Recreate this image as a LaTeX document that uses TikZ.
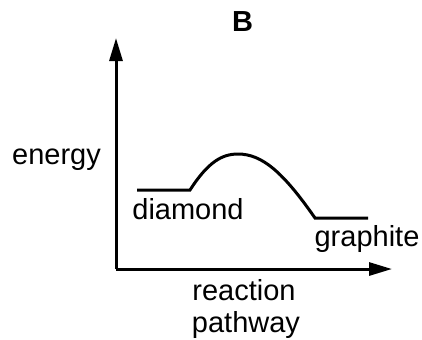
\documentclass[tikz,border=0pt]{standalone}
\usepackage{fontspec}
\setmainfont{Liberation Sans}
\usetikzlibrary{arrows.meta}

\begin{document}
\begin{tikzpicture}[x=0.5pt,y=-0.5pt,
 axis/.style={line width=1.5pt,-{Triangle[length=11.5pt,width=6.5pt]}},
 level/.style={line width=1.5pt},
 lbl/.style={font=\fontsize{14.5}{17}\selectfont,inner sep=0pt}]
\useasboundingbox (0,0) rectangle (422,339);
% axes
\coordinate (origin) at (116,269);
\coordinate (ytop) at (116,38);
\coordinate (xend) at (392,269);
\draw[axis] (origin) -- (ytop);
\draw[axis] (origin) -- (xend);
% energy profile
\coordinate (d1) at (137,190);
\coordinate (d2) at (190,190);
\coordinate (ts) at (238,154);
\coordinate (g1) at (315,218);
\coordinate (g2) at (368,218);
\draw[level] (d1) -- (d2) .. controls (208,162) and (222,154) .. (ts)
  .. controls (262,154) and (283,172) .. (g1) -- (g2);
% labels
\node[lbl,font=\fontsize{14.5}{17}\selectfont\bfseries] (title) at (242.5,22) {B};
\node[lbl] (energy) at (56.5,160) {energy};
\node[lbl] (diamond) at (188,209) {diamond};
\node[lbl] (graphite) at (367,239) {graphite};
\node[lbl] (reaction) at (244,290) {reaction};
\node[lbl] (pathway) at (246,324.5) {pathway};
\end{tikzpicture}
\end{document}
